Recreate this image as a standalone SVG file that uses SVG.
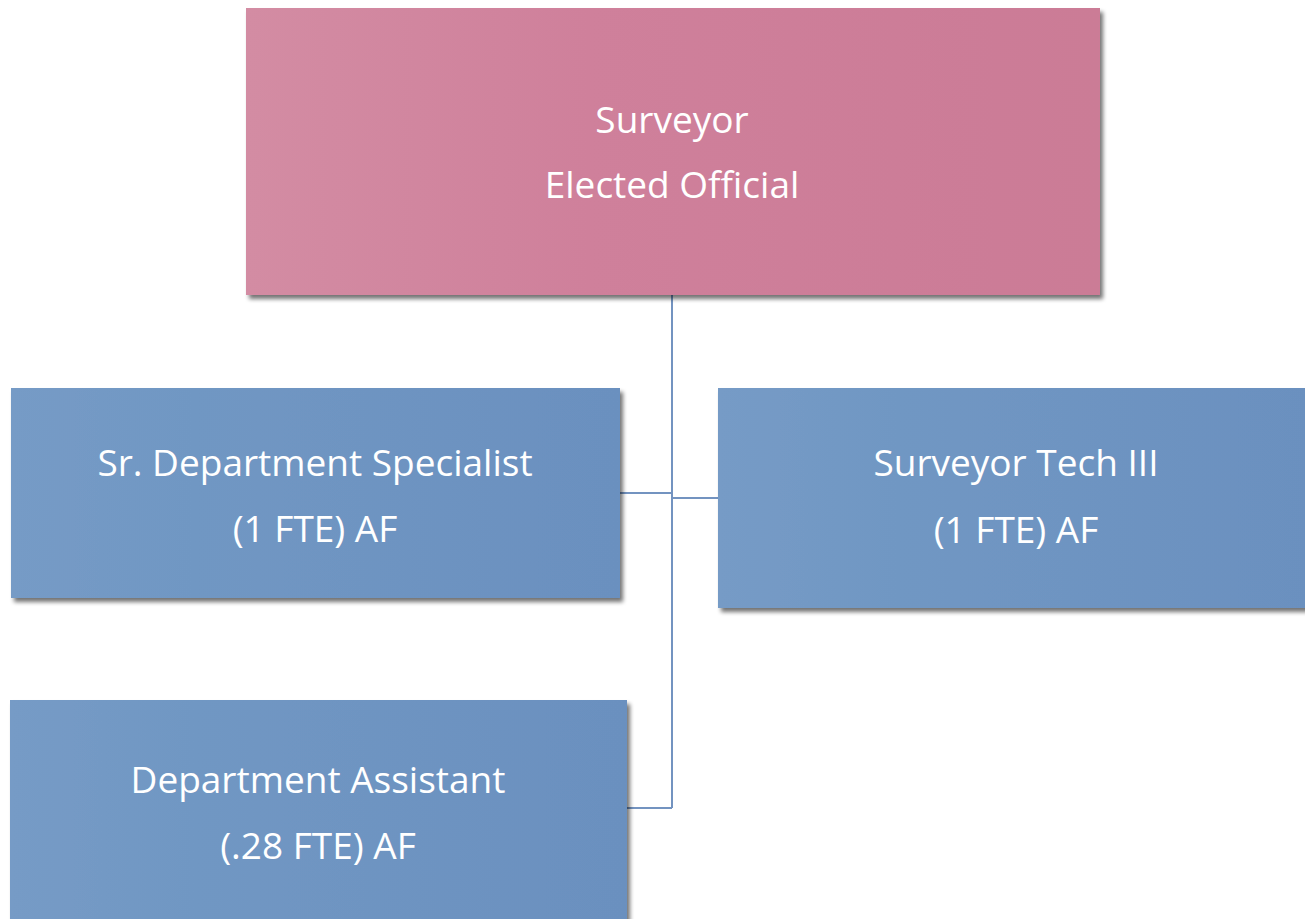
<svg xmlns="http://www.w3.org/2000/svg" width="1305" height="919" viewBox="0 0 1305 919">
  <style>
    .label { font-family: "Open Sans", "Liberation Sans", sans-serif; font-size: 37px; fill: #ffffff; text-anchor: middle; }
    .link { stroke: #7393c0; stroke-width: 2; fill: none; }
  </style>
  <defs>
    <linearGradient id="pinkFill" x1="0" y1="0" x2="1" y2="0">
      <stop offset="0" stop-color="#d38ca3"/>
      <stop offset="0.4" stop-color="#cf809b"/>
      <stop offset="1" stop-color="#cb7b96"/>
    </linearGradient>
    <linearGradient id="blueFill" x1="0" y1="0" x2="1" y2="0">
      <stop offset="0" stop-color="#769bc6"/>
      <stop offset="0.3" stop-color="#7097c3"/>
      <stop offset="1" stop-color="#6b90bf"/>
    </linearGradient>
    <filter id="shadow" x="-5%" y="-5%" width="112%" height="115%">
      <feGaussianBlur in="SourceAlpha" stdDeviation="2"/>
      <feOffset dx="3" dy="4" result="off"/>
      <feComponentTransfer><feFuncA type="linear" slope="0.55"/></feComponentTransfer>
      <feMerge><feMergeNode/><feMergeNode in="SourceGraphic"/></feMerge>
    </filter>
  </defs>

  <rect width="1305" height="919" fill="#ffffff"/>

  <!-- reporting lines -->
  <g id="connectors">
    <path class="link" d="M672 295 V808"/>
    <path class="link" d="M620 493 H672"/>
    <path class="link" d="M672 498 H718"/>
    <path class="link" d="M627 808 H672"/>
  </g>

  <g id="surveyor">
    <rect x="246" y="8" width="854" height="287" fill="url(#pinkFill)" filter="url(#shadow)"/>
    <text class="label" x="672" y="133">Surveyor</text>
    <text class="label" x="672" y="198">Elected Official</text>
  </g>

  <g id="sr-specialist">
    <rect x="11" y="388" width="609" height="210" fill="url(#blueFill)" filter="url(#shadow)"/>
    <text class="label" x="315" y="476">Sr. Department Specialist</text>
    <text class="label" x="315" y="542">(1 FTE) AF</text>
  </g>

  <g id="surveyor-tech">
    <rect x="718" y="388" width="600" height="220" fill="url(#blueFill)" filter="url(#shadow)"/>
    <text class="label" x="1016" y="476">Surveyor Tech III</text>
    <text class="label" x="1016" y="543">(1 FTE) AF</text>
  </g>

  <g id="dept-assistant">
    <rect x="10" y="700" width="617" height="230" fill="url(#blueFill)" filter="url(#shadow)"/>
    <text class="label" x="318" y="793">Department Assistant</text>
    <text class="label" x="318" y="859">(.28 FTE) AF</text>
  </g>
</svg>
